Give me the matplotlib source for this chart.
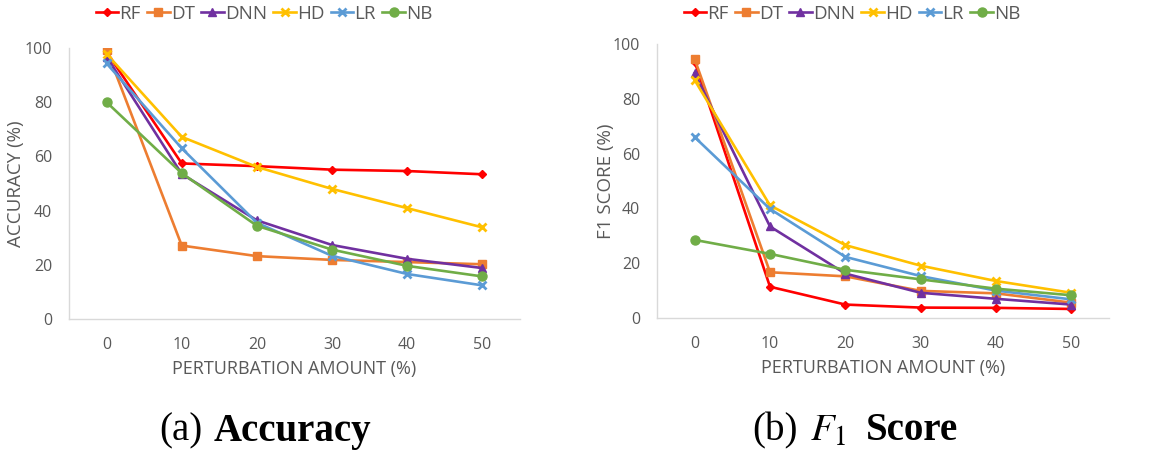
import numpy as np
import matplotlib
matplotlib.use("Agg")
import matplotlib.pyplot as plt

perturbation = [0, 10, 20, 30, 40, 50]
models = ["RF", "DT", "DNN", "HD", "LR", "NB"]

acc_rf = [98.5, 57.4, 56.4, 55.1, 54.6, 53.4]
acc_dt = [99.4, 27.1, 23.2, 21.8, 21.0, 20.2]
acc_dnn = [96.8, 53.5, 36.4, 27.3, 22.2, 18.8]
acc_hd = [97.8, 67.2, 56.1, 48.0, 40.9, 33.8]
acc_lr = [94.3, 63.0, 35.5, 23.3, 16.6, 12.4]
acc_nb = [80.0, 53.8, 34.4, 25.6, 19.6, 15.7]

f1_rf = [93.5, 11.4, 4.9, 3.8, 3.7, 3.3]
f1_dt = [94.5, 16.7, 15.2, 9.9, 9.0, 5.6]
f1_dnn = [89.3, 33.4, 16.2, 9.2, 7.0, 4.9]
f1_hd = [86.8, 41.1, 26.6, 19.1, 13.5, 9.2]
f1_lr = [66.0, 39.8, 22.3, 15.3, 10.0, 6.8]
f1_nb = [28.5, 23.4, 17.6, 14.1, 10.7, 8.3]

colors = ["#ff0000", "#ed7d31", "#7030a0", "#ffc000", "#5b9bd5", "#70ad47"]
markers = ["D", "s", "^", "x", "x", "o"]
msizes = [4.5, 6, 6, 6, 6, 6.5]

plt.rcParams['font.family'] = ['Open Sans', 'DejaVu Sans']

W, H = 1164, 454
fig = plt.figure(figsize=(W / 100, H / 100), dpi=100)


def draw(ax, series, ylabel, lx):
    x = np.arange(len(perturbation))
    lines = []
    for vals, c, m, ms, name in zip(series, colors, markers, msizes, models):
        mew = 2 if m == "x" else 1
        ln, = ax.plot(x, vals, color=c, marker=m, markersize=ms, lw=1.9,
                      markeredgewidth=mew, label=name)
        lines.append(ln)
    ax.set_xlim(-0.5, len(perturbation) - 0.5)
    ax.set_ylim(0, 100)
    ax.set_xticks(x)
    ax.set_xticklabels([str(p) for p in perturbation])
    ax.set_yticks([0, 20, 40, 60, 80, 100])
    ax.tick_params(length=0, labelsize=11.5, colors="#595959", pad=13)
    ax.tick_params(axis="y", pad=12)
    for s in ["top", "right"]:
        ax.spines[s].set_visible(False)
    for s in ["left", "bottom"]:
        ax.spines[s].set_color("#d9d9d9")
        ax.spines[s].set_linewidth(1)
    ax.set_xlabel("PERTURBATION AMOUNT (%)", fontsize=13, color="#595959", labelpad=5)
    ax.set_ylabel(ylabel, fontsize=13.5, color="#595959")
    ax.yaxis.set_label_coords(lx, 0.5)
    return lines


ax1 = fig.add_axes([69 / W, 1 - 319 / H, 451 / W, 271 / H])
l1 = draw(ax1, [acc_rf, acc_dt, acc_dnn, acc_hd, acc_lr, acc_nb], "ACCURACY (%)", -0.098)
ax2 = fig.add_axes([657 / W, 1 - 318 / H, 452 / W, 274 / H])
l2 = draw(ax2, [f1_rf, f1_dt, f1_dnn, f1_hd, f1_lr, f1_nb], "F1 SCORE (%)", -0.093)

for lines, cx in [(l1, 264 / W), (l2, 852 / W)]:
    fig.legend(handles=lines, loc="center", bbox_to_anchor=(cx, 1 - 14 / H),
               ncol=6, frameon=False, fontsize=13.5, handlelength=1.2,
               handletextpad=0.05, columnspacing=0.35, labelcolor="#595959")

cy = 1 - 431 / H
cap = dict(fontsize=28, family="Liberation Serif", va="center", ha="left")
fig.text(159 / W, cy, "(a)", **cap)
fig.text(214 / W, cy, "Accuracy", fontweight="bold", **cap)
fig.text(752 / W, cy, "(b)", **cap)
fig.text(810 / W, cy, r"$F_1$", fontsize=28, va="center", ha="left", math_fontfamily="stix")
fig.text(866 / W, cy, "Score", fontweight="bold", **cap)

fig.savefig("out.png", dpi=100)
